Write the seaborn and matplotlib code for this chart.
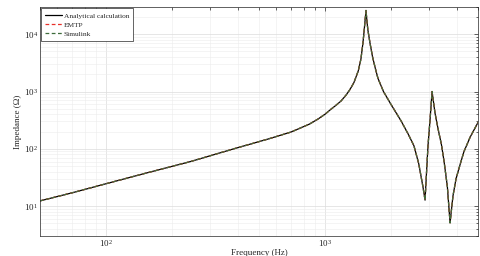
import matplotlib
matplotlib.use('Agg')
import matplotlib.pyplot as plt
from matplotlib.ticker import LogLocator, NullFormatter
import seaborn as sns
import pandas as pd

# Values (Hz, Ohm)
freq = [50, 70, 100, 150, 244, 384, 550, 700, 850, 929, 1000, 1065, 1120, 1183,
        1250, 1300, 1356, 1420, 1460, 1491, 1510, 1525, 1540, 1555, 1570, 1606,
        1650, 1700, 1746, 1850, 2000, 2223, 2400, 2548, 2680, 2742, 2800, 2864,
        2910, 2954, 3020, 3083, 3180, 3285, 3400, 3498, 3620, 3725, 3840, 3966,
        4150, 4309, 4600, 5000]
z_analytical = [12.3, 17, 24.5, 37, 60, 100, 148, 196, 270, 330, 400, 490, 570, 680,
                870, 1080, 1430, 2300, 3700, 7000, 11500, 17500, 26000, 17000, 12000, 7000,
                4000, 2500, 1700, 1000, 600, 310, 180, 113, 55, 34, 22, 12.7,
                40, 113, 330, 1000, 420, 221, 120, 60, 22, 5.1, 15, 30,
                55, 89, 160, 290]
z_emtp = list(z_analytical)
z_simulink = list(z_analytical)

df = pd.DataFrame({'f': freq, 'a': z_analytical, 'e': z_emtp, 's': z_simulink})

sns.set_style("white")
plt.rcParams['font.family'] = ['Liberation Serif', 'DejaVu Serif']
plt.rcParams['mathtext.fontset'] = 'stix'

fig = plt.figure(figsize=(4.8, 2.56), dpi=100)
ax = fig.add_axes([0.083, 0.078, 0.913, 0.895])

sns.lineplot(data=df, x='f', y='a', ax=ax, color='black', lw=0.9,
             label='Analytical calculation')
sns.lineplot(data=df, x='f', y='e', ax=ax, color='#e8302a', lw=0.9,
             linestyle=(0, (3, 2)), label='EMTP')
sns.lineplot(data=df, x='f', y='s', ax=ax, color='#3d6b3a', lw=0.9,
             linestyle=(0, (3, 2)), label='Simulink')

ax.set_xscale('log')
ax.set_yscale('log')
ax.set_xlim(50, 5000)
ax.set_ylim(3, 30000)

ax.xaxis.set_minor_locator(LogLocator(base=10, subs=range(2, 10), numticks=20))
ax.yaxis.set_minor_locator(LogLocator(base=10, subs=range(2, 10), numticks=20))
ax.xaxis.set_minor_formatter(NullFormatter())
ax.yaxis.set_minor_formatter(NullFormatter())

ax.grid(True, which='major', color='#dcdcdc', lw=0.5)
ax.grid(True, which='minor', color='#ececec', lw=0.4)
ax.set_axisbelow(True)

ax.tick_params(which='both', direction='in', top=True, right=True,
               labelsize=6.5, colors='#262626', width=0.5, pad=1.5)
ax.tick_params(which='major', length=3)
ax.tick_params(which='minor', length=1.8)
for sp in ax.spines.values():
    sp.set_color('#262626')
    sp.set_linewidth(0.5)

ax.set_xlabel('Frequency (Hz)', fontsize=6.5, labelpad=0)
ax.set_ylabel('Impedance (\u03a9)', fontsize=6.5, labelpad=1)

leg = ax.legend(loc='upper left', fontsize=5.3, frameon=True, fancybox=False,
                edgecolor='#262626', framealpha=1, borderpad=0.55,
                handlelength=2.2, handletextpad=0.3, labelspacing=0.4,
                borderaxespad=0.2)
leg.get_frame().set_linewidth(0.5)

fig.savefig('out.png', dpi=100)
